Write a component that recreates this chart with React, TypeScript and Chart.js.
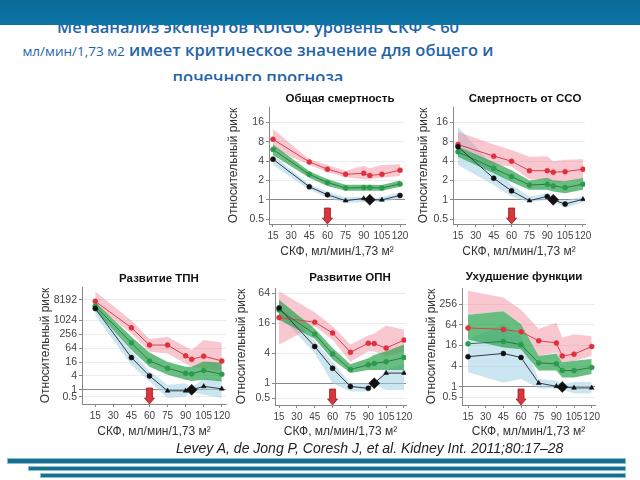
import React, { useEffect, useRef } from "react";
import { Chart, registerables } from "chart.js";

Chart.register(...registerables);

// ---------- data ----------
const GFR = [15, 45, 60, 75, 90, 95, 105, 120];
const GFR_TICKS = [15, 30, 45, 60, 75, 90, 105, 120];
const ARROW_GFR = 60;
const X_TITLE = "СКФ, мл/мин/1,73 м²";
const Y_TITLE = "Относительный риск";

// 1. Общая смертность
const ALL_TICKS = [0.5, 1, 2, 4, 8, 16];
const ALL_R = [8.8, 3.9, 3.0, 2.5, 2.6, 2.4, 2.5, 2.9];
const ALL_R_HI = [12.6, 4.3, 3.5, 2.85, 3.4, 3.1, 3.5, 3.6];
const ALL_R_LO = [6.3, 3.5, 2.7, 2.25, 2.1, 2.1, 2.2, 2.35];
const ALL_G = [6.1, 2.5, 1.86, 1.53, 1.55, 1.55, 1.53, 1.77];
const ALL_G_HI = [7.3, 2.8, 2.1, 1.72, 1.72, 1.72, 1.7, 2.0];
const ALL_G_LO = [5.0, 2.2, 1.65, 1.38, 1.38, 1.38, 1.38, 1.6];
const ALL_K = [4.3, 1.6, 1.2, 0.97, 1.05, 1.0, 1.0, 1.17];
const ALL_K_HI = [5.0, 1.75, 1.35, 1.1, 1.12, 1.05, 1.12, 1.3];
const ALL_K_LO = [3.5, 1.43, 1.08, 0.89, 0.92, 0.95, 0.92, 1.05];
const ALL_K_MARK = ["c", "c", "c", "t", "t", "d", "t", "c"];

// 2. Смертность от ССО
const CVD_TICKS = [0.5, 1, 2, 4, 8, 16];
const CVD_R = [7.3, 4.8, 4.0, 2.85, 2.85, 2.7, 2.75, 3.0];
const CVD_R_HI = [11.5, 7.3, 6.0, 4.7, 4.8, 4.0, 4.2, 4.3];
const CVD_R_LO = [6.3, 3.5, 3.3, 2.1, 2.1, 1.9, 1.9, 2.2];
const CVD_G = [5.6, 3.1, 2.3, 1.7, 1.75, 1.65, 1.55, 1.75];
const CVD_G_HI = [6.7, 3.9, 2.9, 2.0, 2.2, 2.0, 1.95, 2.2];
const CVD_G_LO = [4.7, 2.6, 1.9, 1.43, 1.43, 1.35, 1.27, 1.43];
const CVD_K = [6.7, 2.17, 1.38, 0.97, 1.13, 1.0, 0.86, 1.02];
const CVD_K_HI = [13.7, 3.3, 1.7, 1.13, 1.25, 1.05, 0.98, 1.13];
const CVD_K_LO = [3.5, 1.7, 1.13, 0.92, 1.0, 0.95, 0.75, 0.92];
const CVD_K_MARK = ["c", "c", "c", "t", "c", "d", "c", "t"];

// 3. Развитие ТПН
const ESRD_TICKS = [0.5, 1, 4, 16, 64, 256, 1024, 8192];
const ESRD_R = [7000, 500, 88, 88, 30, 21, 29, 18];
const ESRD_R_HI = [19000, 1024, 160, 200, 75, 52, 145, 115];
const ESRD_R_LO = [4700, 280, 45, 38, 14, 10, 8.6, 6];
const ESRD_G = [4400, 110, 18, 8.6, 5.2, 4.9, 6.9, 4.75];
const ESRD_G_HI = [6500, 200, 42, 16, 10, 10, 16.8, 15];
const ESRD_G_LO = [2900, 53, 10, 4.5, 2.7, 2.4, 2.7, 2.3];
const ESRD_K = [3400, 25, 4, 0.9, 0.9, 1.0, 1.4, 1.1];
const ESRD_K_HI = [5000, 48, 6.6, 1.6, 1.9, 1.2, 3.2, 2.7];
const ESRD_K_LO = [1700, 12, 2.3, 0.44, 0.5, 0.8, 0.6, 0.44];
const ESRD_K_MARK = ["c", "c", "c", "t", "t", "d", "t", "t"];

// 4. Развитие ОПН
const AKI_TICKS = [0.5, 1, 4, 16, 64];
const AKI_R = [21, 17, 10.3, 4.2, 6.4, 6.3, 5.1, 7.4];
const AKI_R_HI = [71, 27, 14, 6, 9.2, 10, 14.6, 12];
const AKI_R_LO = [6, 14, 7.5, 2.7, 4.4, 4.4, 3.5, 4.4];
const AKI_G = [30, 9.8, 3.9, 1.9, 2.35, 2.5, 2.7, 3.3];
const AKI_G_HI = [48, 12.5, 5.1, 2.4, 3.2, 3.7, 4.4, 6];
const AKI_G_LO = [19, 7.9, 3, 1.6, 1.85, 1.85, 1.85, 1.85];
const AKI_K = [33, 5.5, 2.0, 0.86, 0.79, 1.0, 1.6, 1.6];
const AKI_K_HI = [38, 7.2, 2.7, 1.0, 1.0, 1.05, 1.85, 2.5];
const AKI_K_LO = [24, 4, 1.0, 0.68, 0.68, 0.95, 0.73, 0.73];
const AKI_K_MARK = ["c", "c", "c", "c", "c", "d", "t", "t"];

// 5. Ухудшение функции
const PRG_TICKS = [0.5, 1, 4, 16, 64, 256];
const PRG_R = [52, 47, 40, 22, 19, 8, 9, 15];
const PRG_R_HI = [620, 400, 176, 49, 73, 27, 34, 30];
const PRG_R_LO = [126, 158, 58, 8, 10, 5.2, 5.8, 8];
const PRG_G = [18, 21, 17, 5, 4.7, 3, 3, 3.7];
const PRG_G_HI = [126, 158, 65, 8, 9.4, 5.2, 5.8, 6.5];
const PRG_G_LO = [24, 14, 12.5, 3, 3, 1.9, 1.9, 2.4];
const PRG_K = [7.6, 9.4, 7.2, 1.3, 1.05, 1.0, 0.94, 0.94];
const PRG_K_HI = [24, 68, 30, 1.7, 1.55, 1.2, 1.4, 1.4];
const PRG_K_LO = [2.7, 1.33, 1.7, 0.9, 0.9, 0.85, 0.65, 0.65];
const PRG_K_MARK = ["c", "c", "c", "t", "t", "d", "t", "t"];

// ---------- styles ----------
const RED_LINE = "#d8404c";
const RED_PT = "#e0303d";
const PINK_BAND = "rgba(242,130,150,0.45)";
const GREEN_LINE = "#2a7a40";
const GREEN_PT = "#2a9a4c";
const GREEN_BAND = "rgba(46,165,80,0.72)";
const BLACK_LINE = "#333840";
const BLACK_PT = "#111111";
const BLUE_BAND = "rgba(160,210,228,0.55)";
const FONT = '"Liberation Sans", Arial, sans-serif';

type Box = {
  areaL: number; areaR: number; areaT: number; areaB: number;
  titleX: number; titleY: number; yTitleX: number; xTitleY: number;
};

type PanelDef = {
  title: string;
  yTicks: number[];
  yMin: number; yMax: number; xMin: number; xMax: number;
  r: number[]; rHi: number[]; rLo: number[];
  g: number[]; gHi: number[]; gLo: number[];
  k: number[]; kHi: number[]; kLo: number[];
  kMark: string[];
  box: Box;
};

const PANELS: PanelDef[] = [
  {
    title: "Общая смертность", yTicks: ALL_TICKS, yMin: 0.42, yMax: 28, xMin: 11.7, xMax: 124.1,
    r: ALL_R, rHi: ALL_R_HI, rLo: ALL_R_LO, g: ALL_G, gHi: ALL_G_HI, gLo: ALL_G_LO,
    k: ALL_K, kHi: ALL_K_HI, kLo: ALL_K_LO, kMark: ALL_K_MARK,
    box: { areaL: 269, areaR: 405, areaT: 107, areaB: 224, titleX: 340, titleY: 99, yTitleX: 233, xTitleY: 252 },
  },
  {
    title: "Смертность от ССО", yTicks: CVD_TICKS, yMin: 0.42, yMax: 28, xMin: 10.8, xMax: 121.7,
    r: CVD_R, rHi: CVD_R_HI, rLo: CVD_R_LO, g: CVD_G, gHi: CVD_G_HI, gLo: CVD_G_LO,
    k: CVD_K, kHi: CVD_K_HI, kLo: CVD_K_LO, kMark: CVD_K_MARK,
    box: { areaL: 453, areaR: 585, areaT: 107, areaB: 224, titleX: 525, titleY: 99, yTitleX: 423, xTitleY: 252 },
  },
  {
    title: "Развитие ТПН", yTicks: ESRD_TICKS, yMin: 0.24, yMax: 29500, xMin: 4, xMax: 123.5,
    r: ESRD_R, rHi: ESRD_R_HI, rLo: ESRD_R_LO, g: ESRD_G, gHi: ESRD_G_HI, gLo: ESRD_G_LO,
    k: ESRD_K, kHi: ESRD_K_HI, kLo: ESRD_K_LO, kMark: ESRD_K_MARK,
    box: { areaL: 82, areaR: 226, areaT: 287, areaB: 404, titleX: 159, titleY: 279, yTitleX: 45, xTitleY: 432 },
  },
  {
    title: "Развитие ОПН", yTicks: AKI_TICKS, yMin: 0.364, yMax: 83, xMin: 11.6, xMax: 121.7,
    r: AKI_R, rHi: AKI_R_HI, rLo: AKI_R_LO, g: AKI_G, gHi: AKI_G_HI, gLo: AKI_G_LO,
    k: AKI_K, kHi: AKI_K_HI, kLo: AKI_K_LO, kMark: AKI_K_MARK,
    box: { areaL: 275, areaR: 406, areaT: 288, areaB: 405, titleX: 350, titleY: 278, yTitleX: 241, xTitleY: 432 },
  },
  {
    title: "Ухудшение функции", yTicks: PRG_TICKS, yMin: 0.33, yMax: 750, xMin: 9.9, xMax: 122.8,
    r: PRG_R, rHi: PRG_R_HI, rLo: PRG_R_LO, g: PRG_G, gHi: PRG_G_HI, gLo: PRG_G_LO,
    k: PRG_K, kHi: PRG_K_HI, kLo: PRG_K_LO, kMark: PRG_K_MARK,
    box: { areaL: 462, areaR: 595, areaT: 288, areaB: 405, titleX: 524, titleY: 277, yTitleX: 431, xTitleY: 432 },
  },
];

function geometry(b: Box) {
  const L = Math.round(b.yTitleX - 11.2);
  const T = Math.round(b.titleY - 10);
  const bottom = Math.round(b.xTitleY + 12.2);
  const W = Math.round(b.areaR + 10 - L);
  const H = bottom - T;
  return { L, T, W, H, Wy: b.areaL - L, Hx: bottom - b.areaB, padTop: b.areaT - T };
}

const pts = (arr: number[]) => GFR.map((x, i) => ({ x, y: arr[i] }));

const markStyle = (m: string) => (m === "t" ? "triangle" : m === "d" ? "rectRot" : "circle");
const markSize = (m: string) => (m === "d" ? 5.5 : m === "t" ? 2.8 : 2.5);

const panelTitlePlugin = {
  id: "panelTitle",
  afterDraw(chart: any, _a: any, opts: any) {
    const ctx = chart.ctx;
    ctx.save();
    ctx.font = `bold 11.5px ${FONT}`;
    ctx.fillStyle = "#111";
    ctx.textAlign = "center";
    ctx.textBaseline = "middle";
    ctx.fillText(opts.text, opts.x, opts.y);
    ctx.restore();
  },
};

const arrowPlugin = {
  id: "gfrArrow",
  afterDatasetsDraw(chart: any, _a: any, opts: any) {
    const ctx = chart.ctx;
    const x = chart.scales.x.getPixelForValue(opts.value);
    const b = chart.chartArea.bottom + 1;
    ctx.save();
    ctx.fillStyle = "#d6363c";
    ctx.strokeStyle = "#9c1f22";
    ctx.lineWidth = 0.8;
    ctx.beginPath();
    ctx.moveTo(x - 3, b - 17);
    ctx.lineTo(x + 3, b - 17);
    ctx.lineTo(x + 3, b - 7);
    ctx.lineTo(x + 5, b - 7);
    ctx.lineTo(x, b - 1);
    ctx.lineTo(x - 5, b - 7);
    ctx.lineTo(x - 3, b - 7);
    ctx.closePath();
    ctx.fill();
    ctx.stroke();
    ctx.restore();
  },
};

function buildConfig(p: PanelDef, g: ReturnType<typeof geometry>): any {
  const band = (hi: number[], lo: number[], color: string, order: number) => [
    { data: pts(hi), fill: "+1", backgroundColor: color, borderColor: "transparent", borderWidth: 0, pointRadius: 0, order },
    { data: pts(lo), fill: false, borderColor: "transparent", borderWidth: 0, pointRadius: 0, order },
  ];
  const line = (vals: number[], lineColor: string, ptColor: string, marks: string[]) => ({
    data: pts(vals),
    fill: false,
    borderColor: lineColor,
    borderWidth: 1,
    pointStyle: marks.map(markStyle),
    pointRadius: marks.map(markSize),
    pointBackgroundColor: ptColor,
    pointBorderColor: ptColor,
    pointBorderWidth: 0.5,
    order: 0,
  });
  const circles = GFR.map(() => "c");
  const xTickFont = { family: FONT, size: 10 };
  const yTickFont = { family: FONT, size: 10.5 };
  const titleFont = { family: FONT, size: 12 };
  return {
    type: "line",
    data: {
      datasets: [
        line(p.k, BLACK_LINE, BLACK_PT, p.kMark),
        line(p.g, GREEN_LINE, GREEN_PT, circles),
        line(p.r, RED_LINE, RED_PT, circles),
        ...band(p.gHi, p.gLo, GREEN_BAND, 1),
        ...band(p.rHi, p.rLo, PINK_BAND, 2),
        ...band(p.kHi, p.kLo, BLUE_BAND, 3),
      ],
    },
    options: {
      responsive: false,
      animation: false,
      events: [],
      layout: { padding: { top: g.padTop, right: 10, left: 0, bottom: 0 } },
      plugins: {
        legend: { display: false },
        tooltip: { enabled: false },
        title: { display: false },
        panelTitle: { text: p.title, x: p.box.titleX - g.L, y: p.box.titleY - g.T },
        gfrArrow: { value: ARROW_GFR },
      },
      scales: {
        x: {
          type: "linear",
          min: p.xMin,
          max: p.xMax,
          afterBuildTicks: (s: any) => { s.ticks = GFR_TICKS.map((v) => ({ value: v })); },
          afterFit: (s: any) => { s.height = g.Hx; },
          ticks: { autoSkip: false, maxRotation: 0, minRotation: 0, font: xTickFont, color: "#444", padding: 3 },
          grid: { drawOnChartArea: false, tickLength: 3, color: "#888" },
          border: { color: "#888" },
          title: { display: true, text: X_TITLE, font: titleFont, color: "#333", padding: { top: 0, bottom: 5 } },
        },
        y: {
          type: "logarithmic",
          min: p.yMin,
          max: p.yMax,
          afterBuildTicks: (s: any) => { s.ticks = p.yTicks.map((v) => ({ value: v })); },
          afterFit: (s: any) => { s.width = g.Wy; },
          ticks: { autoSkip: false, font: yTickFont, color: "#444", padding: 2, callback: (v: any) => String(v) },
          grid: {
            color: (c: any) => (c.tick && c.tick.value === 1 ? "#8a8a8a" : "#ececec"),
            tickColor: "#888",
            tickLength: 3,
          },
          border: { color: "#888" },
          title: { display: true, text: Y_TITLE, font: titleFont, color: "#333", padding: { top: 4, bottom: 0 } },
        },
      },
    },
    plugins: [panelTitlePlugin, arrowPlugin],
  };
}

function Panel({ p }: { p: PanelDef }) {
  const ref = useRef<HTMLCanvasElement>(null);
  const g = geometry(p.box);
  useEffect(() => {
    const chart = new Chart(ref.current as HTMLCanvasElement, buildConfig(p, g));
    return () => chart.destroy();
  }, []);
  return (
    <canvas
      ref={ref}
      width={g.W}
      height={g.H}
      style={{ position: "absolute", left: g.L, top: g.T, width: g.W, height: g.H }}
    />
  );
}

const stripe = (left: number, top: number, h: number): React.CSSProperties => ({
  position: "absolute",
  left,
  top,
  width: 625 - left,
  height: h,
  background: "#1c6d8d",
  boxShadow: "0 0 0 1px #7cc3d8",
});

const titleLine = (top: number): React.CSSProperties => ({
  position: "absolute",
  left: 20,
  top,
  width: 476,
  textAlign: "center",
  color: "#1f64a8",
  fontFamily: '"Open Sans", sans-serif',
  fontWeight: 600,
  fontSize: 16.5,
  lineHeight: "24px",
  whiteSpace: "nowrap",
});

export default function App() {
  return (
    <div
      style={{
        position: "fixed",
        left: 0,
        top: 0,
        width: 640,
        height: 480,
        background: "#fff",
        overflow: "hidden",
      }}
    >
      <div style={{ position: "absolute", left: 0, top: 0, width: 640, height: 81, overflow: "hidden" }}>
        <div style={titleLine(14.5)}>Метаанализ экспертов KDIGO: уровень СКФ &lt; 60</div>
        <div style={titleLine(38)}>
          <span style={{ fontSize: 13.5, fontWeight: 400 }}>мл/мин/1,73 м2</span> имеет критическое значение для общего и
        </div>
        <div style={titleLine(64.5)}>почечного прогноза</div>
      </div>
      <div
        style={{
          position: "absolute",
          left: 0,
          top: 0,
          width: 640,
          height: 25,
          background: "linear-gradient(#0a6a97, #0c76a7)",
        }}
      />
      {PANELS.map((p, i) => (
        <Panel key={i} p={p} />
      ))}
      <div
        style={{
          position: "absolute",
          left: 176,
          top: 441,
          fontFamily: FONT,
          fontStyle: "italic",
          fontSize: 14,
          lineHeight: "15px",
          color: "#222",
          whiteSpace: "nowrap",
        }}
      >
        Levey A, de Jong P, Coresh J, et al. Kidney Int. 2011;80:17–28
      </div>
      <div style={stripe(8, 459, 4)} />
      <div style={stripe(29, 467, 3)} />
      <div style={stripe(41, 474, 3)} />
    </div>
  );
}
